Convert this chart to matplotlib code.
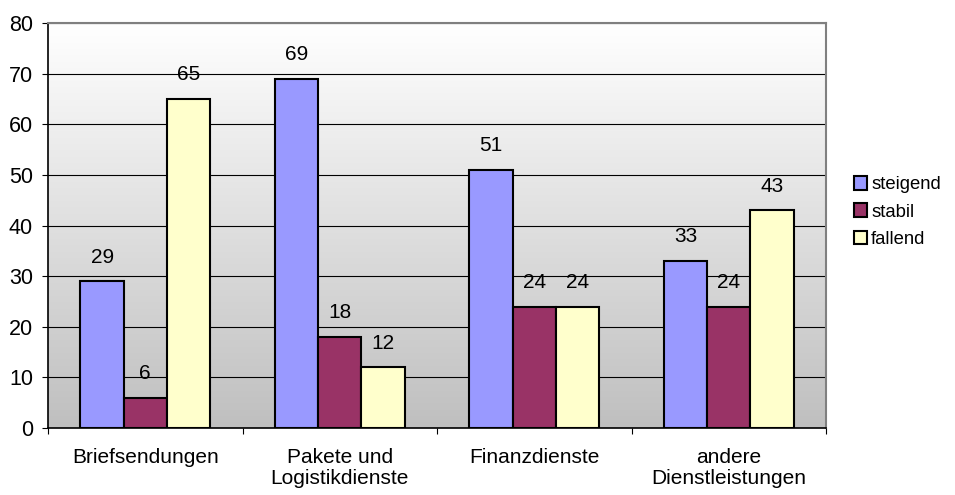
import numpy as np
import matplotlib
matplotlib.use("Agg")
import matplotlib.pyplot as plt
from matplotlib.patches import Patch

categories = ["Briefsendungen", "Pakete und\nLogistikdienste", "Finanzdienste", "andere\nDienstleistungen"]
series_names = ["steigend", "stabil", "fallend"]
steigend = [29, 69, 51, 33]
stabil = [6, 18, 24, 24]
fallend = [65, 12, 24, 43]
yticks = [0, 10, 20, 30, 40, 50, 60, 70, 80]

colors = ["#9999FF", "#993366", "#FFFFCC"]
plt.rcParams['font.family'] = ['Liberation Sans', 'DejaVu Sans']

fig = plt.figure(figsize=(9.55, 4.95), dpi=100)
ax = fig.add_axes([48/955, 1-428/495, (826-48)/955, (428-23)/495])

# gradient background
grad = np.linspace(1, 0, 256).reshape(-1, 1)
top = np.array([1.0, 1.0, 1.0]); bot = np.array([0.75, 0.75, 0.75])
img = top[None, None, :] * grad[:, :, None] + bot[None, None, :] * (1 - grad[:, :, None])
ax.imshow(img, extent=[0, 1, 0, 1], transform=ax.transAxes, aspect='auto', zorder=0)

x = np.arange(len(categories))
w = 0.222
for i, (vals, c) in enumerate(zip([steigend, stabil, fallend], colors)):
    pos = x + (i - 1) * w
    ax.bar(pos, vals, width=w, color=c, edgecolor='black', linewidth=1.5, zorder=3)
    for p, v in zip(pos, vals):
        ax.annotate(str(v), (p, v), xytext=(0, 17.3), textcoords='offset points',
                    ha='center', va='center', fontsize=15, zorder=4)

ax.set_xlim(-0.5, len(categories) - 0.5)
ax.set_ylim(0, 80)
ax.set_yticks(yticks)
ax.yaxis.grid(True, color='black', linewidth=0.8, zorder=1)
ax.set_axisbelow(True)
ax.set_xticks(np.arange(len(categories) + 1) - 0.5)
ax.set_xticklabels([])
ax.set_xticks(x, minor=True)
ax.set_xticklabels(categories, minor=True, fontsize=15, linespacing=1.15)
ax.tick_params(axis='x', which='minor', length=0, pad=14.5)
ax.tick_params(axis='x', which='major', length=4.3, direction='out')
ax.tick_params(axis='y', length=4.3, direction='out', labelsize=15.5, pad=6.5)
for s in ['top', 'right']:
    ax.spines[s].set_color('#808080')
    ax.spines[s].set_linewidth(1.5)
for s in ['left', 'bottom']:
    ax.spines[s].set_color('black')
    ax.spines[s].set_linewidth(1.2)

handles = [Patch(facecolor=c, edgecolor='black', linewidth=1.5, label=n) for c, n in zip(colors, series_names)]
fig.legend(handles=handles, loc='center left', bbox_to_anchor=(837/955, 1-212/495),
           frameon=False, fontsize=13.3, handlelength=0.75, handleheight=0.75,
           handletextpad=0.2, labelspacing=0.55)

fig.savefig("out.png", dpi=100)
